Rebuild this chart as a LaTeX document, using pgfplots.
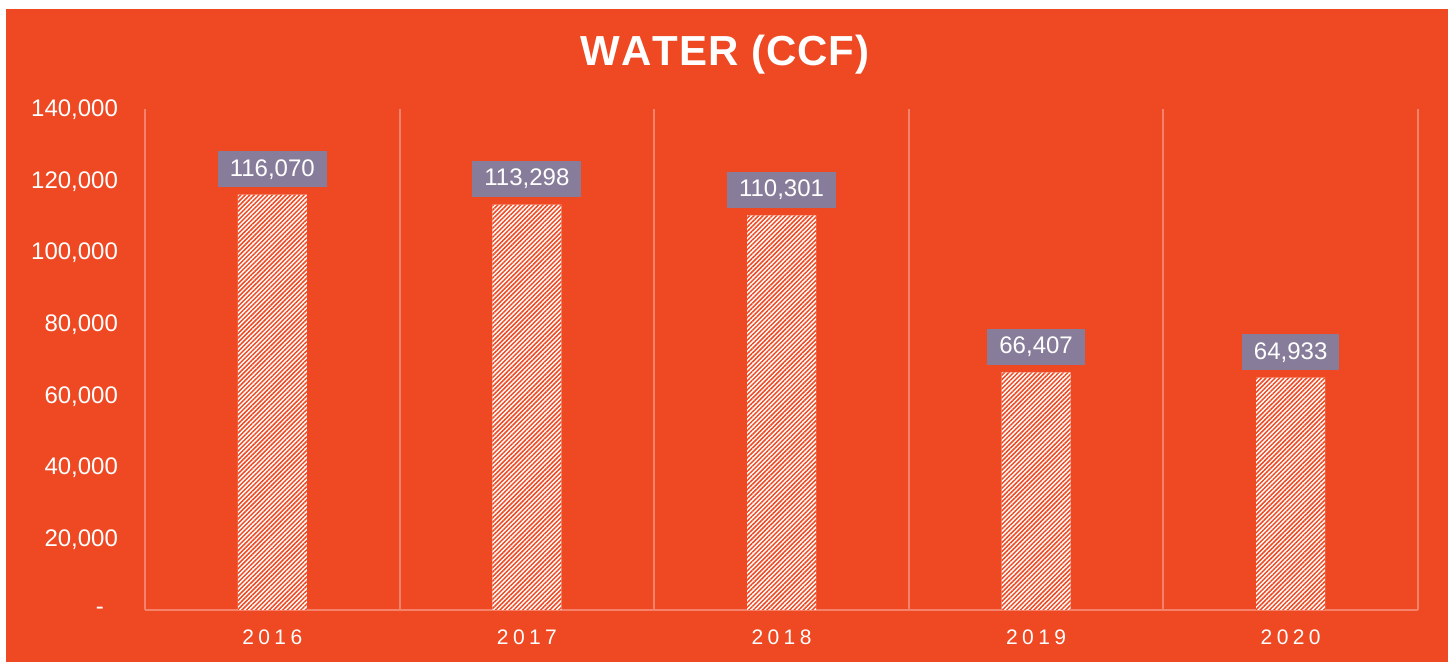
\documentclass[border=0pt]{standalone}
\usepackage{pgfplots}
\pgfplotsset{compat=1.18}
\usepackage{fontspec}
\setmainfont{Liberation Sans}
\usetikzlibrary{patterns.meta}
\definecolor{bg}{HTML}{EF4923}
\definecolor{gridc}{HTML}{F4826A}
\definecolor{lab}{HTML}{877D9B}
\begin{document}
\begin{tikzpicture}
\useasboundingbox (0,0) rectangle (726.5pt,331pt);
\fill[white] (0,0) rectangle (726.5pt,331pt);
\fill[bg] (3pt,0) rectangle (724pt,326.5pt);
\node[text=white, font=\bfseries\fontsize{21}{25}\selectfont] at (362.5pt,303.5pt) {W\kern0.5pt A\kern0.5pt T\kern0.5pt E\kern0.5pt R\kern0.5pt\ (\kern0.5pt C\kern0.5pt C\kern0.5pt F\kern0.5pt )};
\begin{axis}[
  at={(72.5pt,26pt)}, anchor=south west,
  scale only axis, width=636.5pt, height=250.5pt,
  xmin=-0.5, xmax=4.5, ymin=0, ymax=140000,
  axis line style={draw=none},
  scaled y ticks=false,
  xtick={0,1,2,3,4},
  xticklabels={2\hspace{2.2pt}0\hspace{2.2pt}1\hspace{2.2pt}6,2\hspace{2.2pt}0\hspace{2.2pt}1\hspace{2.2pt}7,2\hspace{2.2pt}0\hspace{2.2pt}1\hspace{2.2pt}8,2\hspace{2.2pt}0\hspace{2.2pt}1\hspace{2.2pt}9,2\hspace{2.2pt}0\hspace{2.2pt}2\hspace{2.2pt}0},
  minor xtick={-0.5,0.5,1.5,2.5,3.5,4.5},
  xminorgrids, minor grid style={gridc, line width=1pt},
  ytick={0,20000,40000,60000,80000,100000,120000,140000},
  yticklabels={\raisebox{-3pt}{-}\kern7pt\null,{20,000},{40,000},{60,000},{80,000},{100,000},{120,000},{140,000}},
  major tick length=0pt, minor tick length=0pt,
  tick label style={text=white},
  yticklabel style={font=\fontsize{12}{14}\selectfont, xshift=-10pt, yshift=-0.5pt},
  xticklabel style={font=\fontsize{10.5}{12}\selectfont, yshift=-6.5pt},
  /pgf/number format/.cd, fixed, precision=0, 1000 sep={,}, assume math mode=true, /pgfplots/.cd,
  clip=false,
]
\draw[gridc, line width=1pt] (rel axis cs:0,0) -- (rel axis cs:1,0);
\addplot[ybar, bar width=34.5pt, bar shift=0pt, fill=white, draw=none,
  nodes near coords,
  every node near coord/.style={fill=lab, text=white, font=\fontsize{12}{14}\selectfont,
    inner xsep=6pt, inner ysep=0pt, minimum height=18pt, anchor=south, yshift=3.5pt}]
  coordinates {(0,116070) (1,113298) (2,110301) (3,66407) (4,64933)};
\addplot[ybar, bar width=34.5pt, bar shift=0pt, draw=none, fill=none,
  pattern={Lines[angle=45, distance=1.6pt, line width=0.75pt]}, pattern color=bg]
  coordinates {(0,116070) (1,113298) (2,110301) (3,66407) (4,64933)};
\end{axis}
\end{tikzpicture}
\end{document}
